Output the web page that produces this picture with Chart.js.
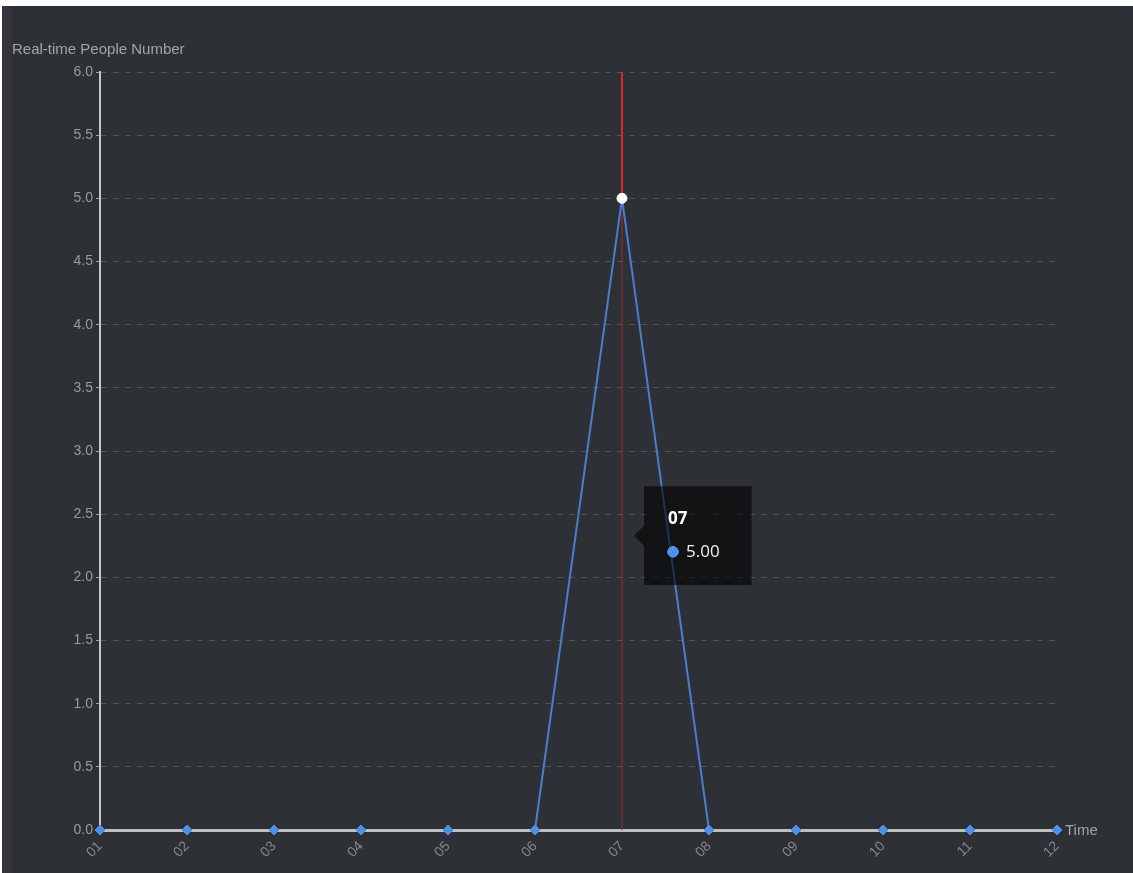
<!DOCTYPE html>
<html>
<head>
<meta charset="utf-8">
<script src="https://cdn.jsdelivr.net/npm/chart.js@4.4.0/dist/chart.umd.min.js"></script>
<style>
  html, body { margin: 0; padding: 0; background: #ffffff; }
  #wrap {
    position: absolute;
    left: 2px;
    top: 6px;
    width: 1131px;
    height: 867px;
    background: linear-gradient(to right, #32353a 0 10px, #2d3035 10px);
  }
</style>
</head>
<body>
<div id="wrap"><canvas id="people-chart"></canvas></div>
<script>
const timeLabels = ["01", "02", "03", "04", "05", "06", "07", "08", "09", "10", "11", "12"];
const peopleCounts = [0, 0, 0, 0, 0, 0, 5, 0, 0, 0, 0, 0];
const yTicks = [0, 0.5, 1, 1.5, 2, 2.5, 3, 3.5, 4, 4.5, 5, 5.5, 6];
const yAxisName = "Real-time People Number";
const xAxisName = "Time";
const hoverIndex = 6;
const tooltipLevel = 2.33;

const tickFont = { family: "'Liberation Sans', Arial, sans-serif", size: 14 };

// axis names + crosshair on the hovered category
const axisExtras = {
  id: "axisExtras",
  beforeDatasetsDraw(chart) {
    const { ctx, scales: { x, y } } = chart;
    const px = Math.round(x.getPixelForValue(hoverIndex));
    const py = y.getPixelForValue(peopleCounts[hoverIndex]);
    ctx.save();
    ctx.strokeStyle = "#e0242b";
    ctx.lineWidth = 2;
    ctx.beginPath();
    ctx.moveTo(px, y.top);
    ctx.lineTo(px, py);
    ctx.stroke();
    ctx.strokeStyle = "#8c2f35";
    ctx.lineWidth = 1.2;
    ctx.beginPath();
    ctx.moveTo(px, py);
    ctx.lineTo(px, y.bottom);
    ctx.stroke();
    ctx.restore();
  },
  afterDraw(chart) {
    const { ctx, scales: { x, y } } = chart;
    ctx.save();
    ctx.fillStyle = "#a3a5a8";
    ctx.textBaseline = "middle";
    ctx.textAlign = "left";
    ctx.font = "15px 'Liberation Sans', Arial, sans-serif";
    ctx.fillText(yAxisName, 10, y.top - 22);
    ctx.fillText(xAxisName, x.right + 8, y.bottom + 1);
    ctx.restore();
  },
};

Chart.Tooltip.positioners.pinned = function (items) {
  if (!items.length) return false;
  const yScale = this.chart.scales.y;
  return { x: items[0].element.x, y: yScale.getPixelForValue(tooltipLevel) };
};

const chart = new Chart(document.getElementById("people-chart"), {
  type: "line",
  data: {
    labels: timeLabels,
    datasets: [
      {
        data: peopleCounts,
        clip: false,
        borderColor: "#4a7dcc",
        borderWidth: 2,
        tension: 0,
        fill: false,
        // the flat part lies under the x axis line in the original
        segment: {
          borderColor: (s) => (s.p0.parsed.y === 0 && s.p1.parsed.y === 0 ? "rgba(0,0,0,0)" : undefined),
        },
        pointStyle: (c) => (c.dataIndex === hoverIndex ? "circle" : "rectRot"),
        pointRadius: 5,
        pointBackgroundColor: (c) => (c.dataIndex === hoverIndex ? "#ffffff" : "#4f8fe6"),
        pointBorderColor: (c) => (c.dataIndex === hoverIndex ? "#ffffff" : "#4f8fe6"),
        pointBorderWidth: 1,
        pointHoverRadius: 5,
        pointHoverBackgroundColor: "#ffffff",
        pointHoverBorderColor: "#ffffff",
        pointHoverBorderWidth: 1,
      },
    ],
  },
  options: {
    responsive: true,
    maintainAspectRatio: false,
    animation: false,
    events: [],
    layout: { padding: { top: 66, right: 76, left: 0, bottom: 0 } },
    scales: {
      x: {
        offset: false,
        grid: { display: false, drawTicks: false },
        border: { display: true, color: "#bcbec0", width: 3 },
        ticks: {
          color: "#85888c",
          font: tickFont,
          minRotation: 45,
          maxRotation: 45,
          padding: 8,
        },
        afterFit: (scale) => { scale.height = 43; },
      },
      y: {
        min: 0,
        max: 6,
        afterBuildTicks: (scale) => { scale.ticks = yTicks.map((v) => ({ value: v })); },
        grid: {
          color: "#50535a",
          lineWidth: 1,
          drawTicks: true,
          tickLength: 4,
          tickColor: "#a0a2a5",
        },
        border: { display: true, color: "#c4c6c8", width: 2, dash: [6, 6] },
        ticks: {
          color: "#989a9e",
          font: tickFont,
          padding: 3,
          callback: (v) => Number(v).toFixed(1),
        },
        afterFit: (scale) => { scale.width = 98; },
      },
    },
    plugins: {
      legend: { display: false },
      title: { display: false },
      tooltip: {
        enabled: true,
        position: "pinned",
        xAlign: "left",
        yAlign: "center",
        backgroundColor: "rgba(0,0,0,0.6)",
        cornerRadius: 0,
        caretSize: 10,
        caretPadding: 12,
        padding: { top: 23, bottom: 23, left: 24, right: 32 },
        titleFont: { family: "'Open Sans', sans-serif", size: 17, weight: "bold" },
        titleColor: "#ffffff",
        titleMarginBottom: 12,
        bodyFont: { family: "'Open Sans', sans-serif", size: 17 },
        bodyColor: "#eeeeee",
        displayColors: true,
        usePointStyle: true,
        boxWidth: 10,
        boxHeight: 10,
        boxPadding: 6,
        callbacks: {
          title: (items) => items[0].label,
          label: (item) => Number(item.parsed.y).toFixed(2),
          labelPointStyle: () => ({ pointStyle: "circle", rotation: 0 }),
          labelColor: () => ({ borderColor: "#4a90f0", backgroundColor: "#4a90f0", borderWidth: 0 }),
        },
      },
    },
  },
  plugins: [axisExtras],
});

const active = [{ datasetIndex: 0, index: hoverIndex }];
chart.setActiveElements(active);
chart.tooltip.setActiveElements(active, { x: 0, y: 0 });
chart.update();
</script>
</body>
</html>
